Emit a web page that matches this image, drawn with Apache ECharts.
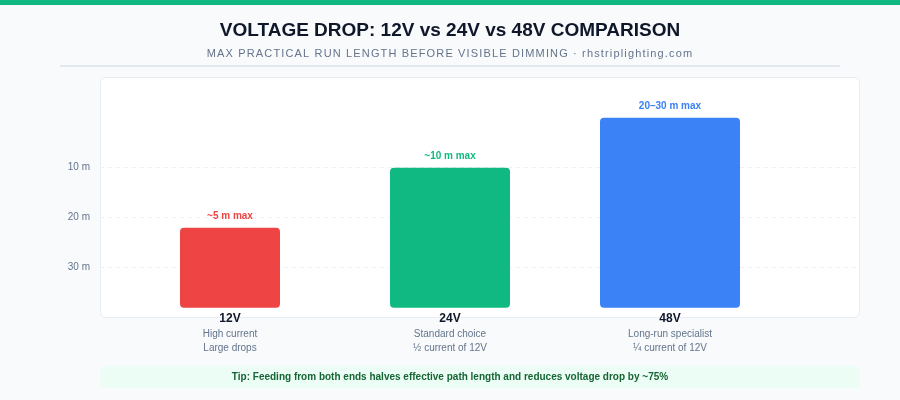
<!DOCTYPE html>
<html>
<head>
<meta charset="utf-8">
<title>Voltage drop comparison</title>
<script src="https://cdn.jsdelivr.net/npm/echarts@6/dist/echarts.min.js"></script>
<style>
  html, body { margin: 0; padding: 0; background: #f8fafc; }
  #chart { width: 900px; height: 400px; }
</style>
</head>
<body>
<div id="chart"></div>
<script>
// data
const voltages = ['12V', '24V', '48V'];
const barScore = [16, 28, 38];            // relative bar height (picture scale, 0-40)
const maxRunText = ['~5 m max', '~10 m max', '20–30 m max'];
const notesA = ['High current', 'Standard choice', 'Long-run specialist'];
const notesB = ['Large drops', '½ current of 12V', '¼ current of 12V'];
const runTicks = [10, 20, 30];            // m, printed on the left

// styles
const barColors = ['#ef4444', '#10b981', '#3b82f6'];
const barWidths = [100, 120, 140];
const FONT = '"Liberation Sans", Arial, sans-serif';

const subtitle = 'MAX PRACTICAL RUN LENGTH BEFORE VISIBLE DIMMING · rhstriplighting.com';
// no letter-spacing in zrender, so each char gets a little right padding
const spaced = subtitle.split('').map(function (c) { return '{c|' + c + '}'; }).join('');

const chart = echarts.init(document.getElementById('chart'));

const option = {
  backgroundColor: '#f8fafc',
  animation: false,
  textStyle: { fontFamily: FONT },
  title: [
    {
      text: 'VOLTAGE DROP: 12V vs 24V vs 48V COMPARISON',
      left: 'center',
      top: 16,
      textStyle: { fontSize: 19, fontWeight: 'bold', color: '#0f172a', fontFamily: FONT }
    },
    {
      text: spaced,
      left: 'center',
      top: 43,
      textStyle: {
        fontSize: 11,
        fontWeight: 'normal',
        color: '#64748b',
        fontFamily: FONT,
        rich: {
          c: {
            fontSize: 11, fontWeight: 'normal', color: '#64748b',
            fontFamily: FONT, padding: [0, 1.15, 0, 0]
          }
        }
      }
    }
  ],
  graphic: [
    { type: 'rect', shape: { x: 0, y: 0, width: 900, height: 5 }, style: { fill: '#10b981' }, z: 0 },
    { type: 'rect', shape: { x: 60, y: 65, width: 780, height: 2 }, style: { fill: '#e2e8f0' }, z: 0 },
    {
      type: 'rect',
      shape: { x: 100.5, y: 77.5, width: 759, height: 240, r: 5 },
      style: { fill: '#ffffff', stroke: '#e8edf3', lineWidth: 1 },
      z: -1
    },
    {
      type: 'rect',
      shape: { x: 100, y: 366, width: 760, height: 22, r: 4 },
      style: { fill: '#ecfdf5' },
      z: 0
    },
    {
      type: 'text',
      x: 450, y: 377,
      style: {
        text: 'Tip: Feeding from both ends halves effective path length and reduces voltage drop by ~75%',
        fill: '#166534',
        font: 'bold 10px ' + FONT,
        textAlign: 'center',
        textVerticalAlign: 'middle'
      },
      z: 1
    }
  ],
  grid: [
    { left: 100, right: 40, top: 117, height: 200 },
    { left: 120, right: 120, top: 107.7, height: 200 }
  ],
  xAxis: [
    { gridIndex: 0, type: 'value', min: 0, max: 1, show: false },
    {
      gridIndex: 1,
      type: 'category',
      data: voltages,
      axisLine: { show: false },
      axisTick: { show: false },
      axisLabel: {
        margin: 2,
        formatter: function (v, i) {
          return '{v|' + v + '}\n{d|' + notesA[i] + '}\n{d|' + notesB[i] + '}';
        },
        rich: {
          v: { fontSize: 12, fontWeight: 'bold', color: '#0f172a', lineHeight: 18, fontFamily: FONT },
          d: { fontSize: 10, color: '#64748b', lineHeight: 14, fontFamily: FONT }
        }
      }
    }
  ],
  yAxis: [
    {
      gridIndex: 0,
      type: 'value',
      inverse: true,
      min: 0,
      max: 40,
      interval: 10,
      axisLine: { show: false },
      axisTick: { show: false },
      axisLabel: {
        showMinLabel: false,
        showMaxLabel: false,
        margin: 10,
        fontSize: 10,
        color: '#64748b',
        formatter: function (v) { return runTicks.indexOf(v) >= 0 ? v + ' m' : ''; }
      },
      splitLine: {
        show: true,
        showMinLine: false,
        showMaxLine: false,
        lineStyle: { color: '#eef2f6', type: [4, 4], width: 1 }
      }
    },
    { gridIndex: 1, type: 'value', min: 0, max: 40, show: false }
  ],
  series: [
    {
      type: 'custom',
      xAxisIndex: 1,
      yAxisIndex: 1,
      data: barScore.map(function (v, i) { return [i, v]; }),
      renderItem: function (params, api) {
        const i = params.dataIndex;
        const top = api.coord([api.value(0), api.value(1)]);
        const base = api.coord([api.value(0), 0]);
        const w = barWidths[i];
        return {
          type: 'group',
          children: [
            {
              type: 'rect',
              shape: { x: top[0] - w / 2, y: top[1], width: w, height: base[1] - top[1], r: 4 },
              style: { fill: barColors[i] }
            },
            {
              type: 'text',
              x: top[0],
              y: top[1] - 11,
              style: {
                text: maxRunText[i],
                fill: barColors[i],
                font: 'bold 10px ' + FONT,
                textAlign: 'center',
                textVerticalAlign: 'middle'
              }
            }
          ]
        };
      }
    }
  ]
};

chart.setOption(option);
</script>
</body>
</html>
